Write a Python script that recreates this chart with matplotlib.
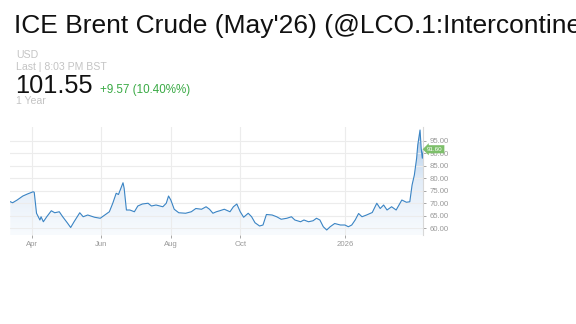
import numpy as np
import matplotlib.pyplot as plt
import matplotlib.dates as mdates
from matplotlib.colors import LinearSegmentedColormap
import datetime as dt

# price history (approx.)
dates = ["2025-03-13", "2025-03-15", "2025-03-19", "2025-03-24", "2025-03-28",
         "2025-04-02", "2025-04-03", "2025-04-05", "2025-04-08", "2025-04-09",
         "2025-04-11", "2025-04-14", "2025-04-18", "2025-04-21", "2025-04-25",
         "2025-04-28", "2025-05-02", "2025-05-05", "2025-05-08", "2025-05-13",
         "2025-05-16", "2025-05-20", "2025-05-26", "2025-05-31", "2025-06-04",
         "2025-06-08", "2025-06-11", "2025-06-14", "2025-06-16", "2025-06-20",
         "2025-06-21", "2025-06-23", "2025-06-26", "2025-06-30", "2025-07-03",
         "2025-07-07", "2025-07-12", "2025-07-15", "2025-07-19", "2025-07-25",
         "2025-07-28", "2025-07-30", "2025-08-01", "2025-08-04", "2025-08-08",
         "2025-08-14", "2025-08-19", "2025-08-23", "2025-08-28", "2025-09-01",
         "2025-09-04", "2025-09-07", "2025-09-10", "2025-09-13", "2025-09-17",
         "2025-09-22", "2025-09-25", "2025-09-28", "2025-10-01", "2025-10-04",
         "2025-10-08", "2025-10-11", "2025-10-14", "2025-10-18", "2025-10-21",
         "2025-10-24", "2025-10-29", "2025-11-02", "2025-11-06", "2025-11-11",
         "2025-11-15", "2025-11-18", "2025-11-23", "2025-11-26", "2025-11-30",
         "2025-12-04", "2025-12-07", "2025-12-10", "2025-12-13", "2025-12-16",
         "2025-12-19", "2025-12-23", "2025-12-28", "2026-01-01", "2026-01-04",
         "2026-01-07", "2026-01-10", "2026-01-13", "2026-01-16", "2026-01-20",
         "2026-01-25", "2026-01-29", "2026-02-01", "2026-02-04", "2026-02-07",
         "2026-02-11", "2026-02-15", "2026-02-20", "2026-02-24", "2026-02-27",
         "2026-03-01", "2026-03-03", "2026-03-05", "2026-03-06", "2026-03-08",
         "2026-03-09", "2026-03-10", "2026-03-11"]
prices = [70.6, 70.2, 71.3, 72.9, 73.7,
          74.6, 74.4, 66.0, 63.3, 64.6,
          62.6, 64.6, 67.0, 66.2, 66.6,
          64.6, 62.2, 60.3, 62.6, 66.2,
          64.6, 65.3, 64.4, 64.0, 65.3,
          66.6, 70.0, 74.0, 73.5, 78.2,
          76.0, 67.3, 67.3, 66.6, 68.9,
          69.7, 70.0, 68.9, 69.3, 68.6,
          70.0, 72.9, 71.3, 67.6, 66.2,
          66.0, 66.6, 67.9, 67.6, 68.6,
          67.6, 66.0, 66.6, 67.0, 67.6,
          66.6, 68.6, 69.7, 66.6, 64.4,
          66.0, 64.6, 62.2, 60.9, 61.3,
          65.5, 65.3, 64.6, 63.6, 64.0,
          64.6, 63.3, 62.6, 63.3, 62.6,
          63.0, 64.0, 63.3, 60.6, 59.3,
          60.6, 61.9, 61.3, 61.3, 60.6,
          61.3, 63.3, 65.9, 64.6, 65.3,
          66.3, 70.0, 67.9, 69.3, 67.3,
          68.6, 67.3, 71.3, 70.4, 70.6,
          77.3, 81.3, 88.0, 93.3, 99.3,
          92.0, 88.0, 91.6]

yticks = [60, 65, 70, 75, 80, 85, 90, 95]
xtick_dates = ["2025-04-01", "2025-06-01", "2025-08-01", "2025-10-01", "2026-01-01"]
xtick_labels = ["Apr", "Jun", "Aug", "Oct", "2026"]

title = "ICE Brent Crude (May'26) (@LCO.1:Intercontinental Exchange)"
currency = "USD"
last_time = "Last | 8:03 PM BST"
last_price = "101.55"
change = "+9.57 (10.40%%)"
period = "1 Year"

W, H = 576, 324
fig = plt.figure(figsize=(W / 100, H / 100), dpi=100)
fig.patch.set_facecolor("white")
plt.rcParams['font.family'] = ['Liberation Sans', 'DejaVu Sans']

def fy(py):
    return 1 - py / H

# header texts (title runs off the right edge, as in the original page)
fig.text(14 / W, fy(33), title, fontsize=19.0, color="#111111", va="baseline")
fig.text(16 / W, fy(57.5), currency, fontsize=7.6, color="#c4c4c4", va="baseline")
fig.text(16 / W, fy(70.5), last_time, fontsize=7.6, color="#c4c4c4", va="baseline")
fig.text(15 / W, fy(92.5), last_price, fontsize=18.3, color="#111111", va="baseline")
fig.text(100 / W, fy(92.5), change, fontsize=8.4, color="#3aaa45", va="baseline")
fig.text(16 / W, fy(104), period, fontsize=7.6, color="#c4c4c4", va="baseline")

# chart area
ax = fig.add_axes([10 / W, fy(235), 413 / W, 108 / H])
x = mdates.date2num([dt.datetime.strptime(d, "%Y-%m-%d") for d in dates])
y = np.array(prices)

apr1 = mdates.date2num(dt.datetime(2025, 4, 1))
ax.set_xlim(apr1 - 19.3, apr1 + 343.6)
ax.set_ylim(57.3, 100.5)

# gradient area below the line
cmap = LinearSegmentedColormap.from_list("fade", ["#f8fbfe", "#e3edf8", "#a8c6e6"])
grad = np.linspace(0, 1, 256).reshape(-1, 1)
img = ax.imshow(grad, cmap=cmap, aspect="auto", origin="lower",
                extent=[x[0], x[-1], 57.3, 100.5], zorder=1)
poly = ax.fill_between(x, y, 57.3, color="none", lw=0)
clip = poly.get_paths()[0]
img.set_clip_path(clip, transform=ax.transData)
ax.plot(x, y, color="#3a84c4", lw=0.8, zorder=3)

# grid and axes
ax.set_yticks(yticks)
ax.set_xticks(mdates.date2num([dt.datetime.strptime(d, "%Y-%m-%d") for d in xtick_dates]))
ax.set_xticklabels(xtick_labels)
ax.grid(True, color="#ececec", lw=0.8, zorder=0)
ax.yaxis.tick_right()
ax.yaxis.set_major_formatter(plt.FuncFormatter(lambda v, p: f"{v:.2f}"))
ax.tick_params(axis="y", labelsize=5.6, colors="#999999", length=2, width=0.6, pad=3)
ax.tick_params(axis="x", labelsize=5.6, colors="#999999", length=2, width=0.6, pad=2)
for s in ["top", "left", "bottom"]:
    ax.spines[s].set_visible(False)
ax.spines["right"].set_color("#d8d8d8")
ax.spines["right"].set_linewidth(0.8)

# last-value tag
ax.annotate(f"{y[-1]:.2f}", xy=(1.0, y[-1]), xycoords=("axes fraction", "data"),
            xytext=(3, 0), textcoords="offset points", fontsize=4.5, color="white",
            va="center", ha="left",
            bbox=dict(boxstyle="larrow,pad=0.25", fc="#7dbf6a", ec="none"))

fig.savefig("out.png", dpi=100)
